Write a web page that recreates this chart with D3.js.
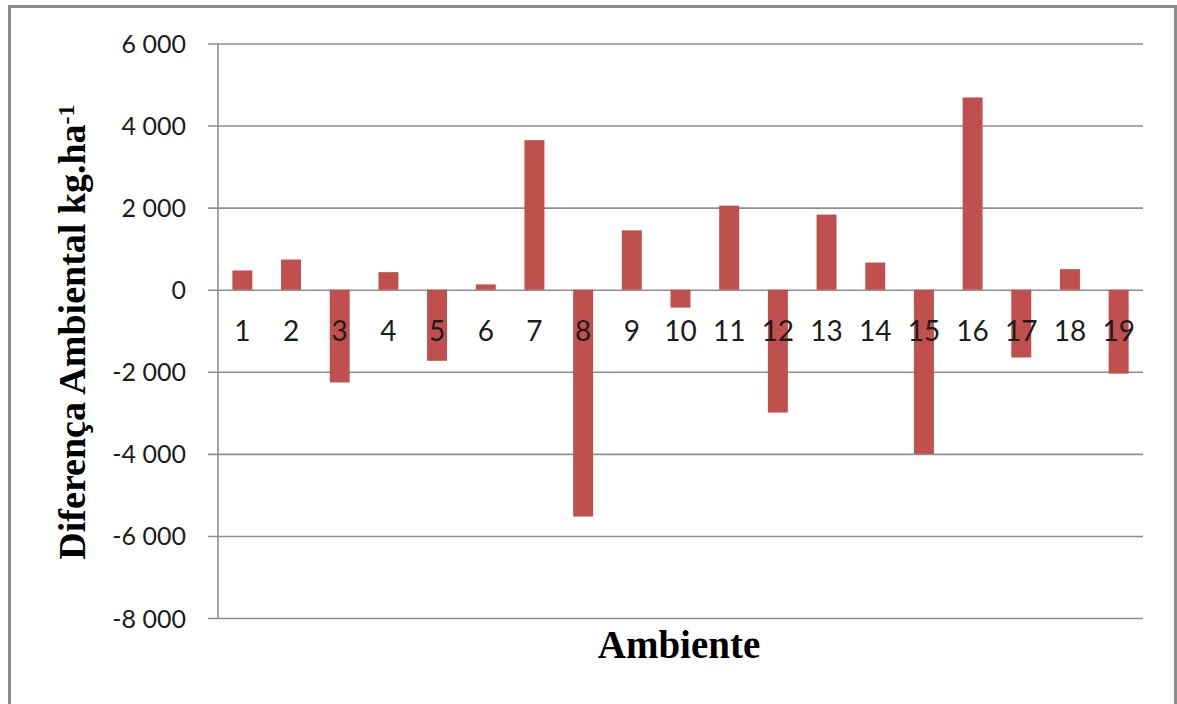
<!DOCTYPE html>
<html>
<head>
<meta charset="utf-8">
<script src="https://cdn.jsdelivr.net/npm/d3@7"></script>
<style>
  html, body { margin: 0; padding: 0; background: #ffffff; }
  svg { display: block; }
</style>
</head>
<body>
<script>
// Environments (Ambiente) and their environmental difference in kg.ha-1
const ambientes = ["1","2","3","4","5","6","7","8","9","10","11","12","13","14","15","16","17","18","19"];
const diferenca = [469, 735, -2260, 428, -1732, 129, 3644, -5528, 1446, -436, 2048, -2994, 1831, 661, -4000, 4685, -1652, 500, -2045];
const yTicks = [6000, 4000, 2000, 0, -2000, -4000, -6000, -8000];

const W = 1177, H = 704;
const plot = { left: 218, right: 1143, top: 43.5, bottom: 618 };

const svg = d3.select("body").append("svg")
  .attr("width", W).attr("height", H);

svg.append("rect").attr("width", W).attr("height", H).attr("fill", "#ffffff");

// Chart frame
svg.append("path")
  .attr("d", `M9.5,${H + 5} V6.5 H1175.5 V${H + 5}`)
  .attr("fill", "none")
  .attr("stroke", "#8c8c8c")
  .attr("stroke-width", 3);

const x = d3.scaleBand()
  .domain(ambientes)
  .range([plot.left, plot.right])
  .paddingInner(0.59)
  .paddingOuter(0.295);

const y = d3.scaleLinear()
  .domain([-8000, 6000])
  .range([plot.bottom, plot.top]);

// Horizontal gridlines with outward ticks
const yAxis = d3.axisLeft(y)
  .tickValues(yTicks)
  .tickSize(-(plot.right - plot.left))
  .tickFormat(d => d3.format(",")(d).replace(/,/g, " ").replace("−", "-"));

const gy = svg.append("g")
  .attr("transform", `translate(${plot.left},0)`)
  .call(yAxis);
gy.select(".domain").remove();
gy.selectAll(".tick line")
  .attr("x1", -10)
  .attr("stroke", "#8e8e8e")
  .attr("stroke-width", 1.6);
gy.selectAll(".tick text")
  .attr("x", -32)
  .attr("dy", "0.36em")
  .attr("fill", "#1c1c1c")
  .style("font-family", "Lato, 'Open Sans', sans-serif")
  .style("font-size", "25px");

// Vertical axis line
svg.append("line")
  .attr("x1", plot.left).attr("x2", plot.left)
  .attr("y1", plot.top).attr("y2", plot.bottom)
  .attr("stroke", "#8e8e8e").attr("stroke-width", 1.6);

// Bars
svg.append("g").selectAll("rect")
  .data(diferenca)
  .join("rect")
  .attr("x", (d, i) => x(ambientes[i]))
  .attr("width", x.bandwidth())
  .attr("y", d => y(Math.max(0, d)))
  .attr("height", d => Math.abs(y(d) - y(0)))
  .attr("fill", "#c0504d");

// Category labels, drawn on top of the bars just below the zero line
svg.append("g").selectAll("text")
  .data(ambientes)
  .join("text")
  .attr("x", d => x(d) + x.bandwidth() / 2)
  .attr("y", 341)
  .attr("text-anchor", "middle")
  .attr("fill", "#1c1c1c")
  .style("font-family", "Lato, 'Open Sans', sans-serif")
  .style("font-size", "28px")
  .text(d => d);

// Axis titles
svg.append("text")
  .attr("x", 679)
  .attr("y", 658)
  .attr("text-anchor", "middle")
  .style("font-family", "'Liberation Serif', 'Times New Roman', serif")
  .style("font-weight", "bold")
  .style("font-size", "39px")
  .attr("fill", "#000")
  .text("Ambiente");

const yt = svg.append("text")
  .attr("transform", "translate(85,332) rotate(-90)")
  .attr("text-anchor", "middle")
  .style("font-family", "'Liberation Serif', 'Times New Roman', serif")
  .style("font-weight", "bold")
  .style("font-size", "38px")
  .attr("fill", "#000");
yt.append("tspan").text("Diferença Ambiental kg.ha");
yt.append("tspan").attr("dy", "-0.45em").style("font-size", "24px").text("-1");
</script>
</body>
</html>
